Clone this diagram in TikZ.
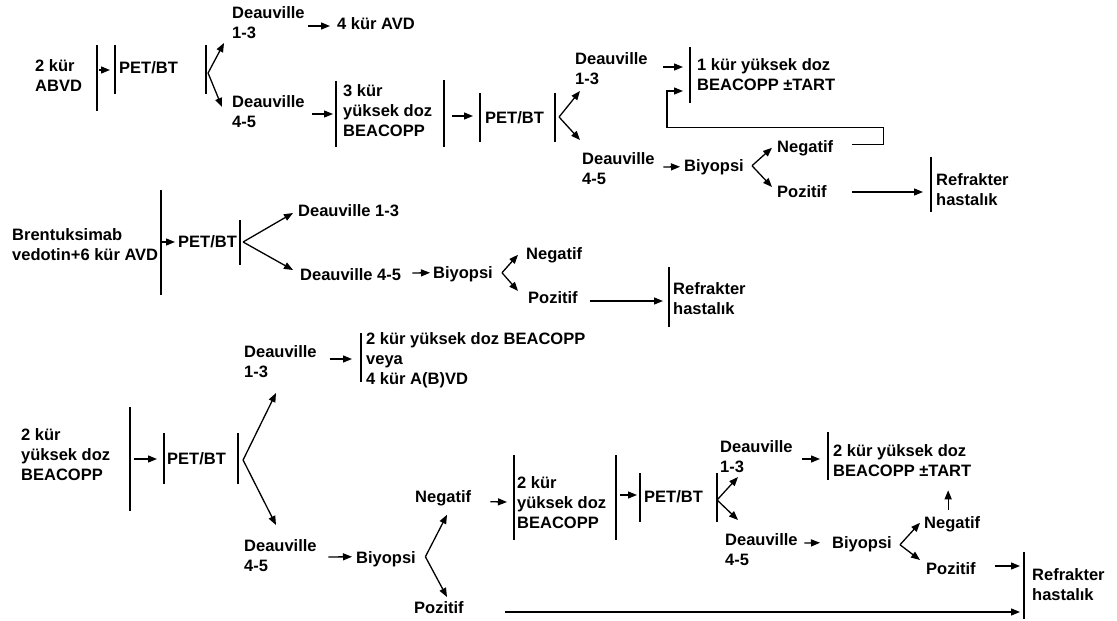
\documentclass[tikz,border=0pt]{standalone}
\usepackage{fontspec}
\setmainfont{Liberation Sans}
\usetikzlibrary{arrows.meta,calc}

\begin{document}
\begin{tikzpicture}[
  x=1pt, y=-1pt,
  font=\bfseries\fontsize{16.5}{20}\selectfont,
  txt/.style={anchor=west, inner sep=0pt, align=left},
  arr/.style={-{Triangle[length=9pt,width=7pt]}, line width=1.3pt},
  bar/.style={line width=1.4pt},
]
\useasboundingbox (0,0) rectangle (1117,621);

%% ---- Row 1: 2 kur ABVD ----
\node[txt] (abvd) at (35,76)  {2 kür\\ABVD};
\node[txt] (pet1) at (119,68) {PET/BT};
\node[txt] (d13a) at (232,23) {Deauville\\1-3};
\node[txt] (avd)  at (337,24) {4 kür AVD};
\node[txt] (d45a) at (232,112) {Deauville\\4-5};
\node[txt] (beacopp3) at (343,111) {3 kür\\yüksek doz\\BEACOPP};
\node[txt] (pet2) at (485,118) {PET/BT};
\node[txt] (d13b) at (575,69) {Deauville\\1-3};
\node[txt] (kur1) at (697,75) {1 kür yüksek doz\\BEACOPP ±TART};
\node[txt] (d45b) at (582,169) {Deauville\\4-5};
\node[txt] (biy1) at (684,166.75) {Biyopsi};
\node[txt] (neg1) at (777,148.75) {Negatif};
\node[txt] (poz1) at (777,192) {Pozitif};
\node[txt] (ref1) at (936,190) {Refrakter\\hastalık};

\draw[bar] (97,45) -- (97,111);
\draw[bar] (115,45) -- (115,94);
\draw[bar] (206,45) -- (206,94);
\draw[bar] (336,81) -- (336,147);
\draw[bar] (444,80) -- (444,147);
\draw[bar] (480,93) -- (480,142);
\draw[bar] (555,93) -- (555,142);
\draw[bar] (690,47) -- (690,103);
\draw[bar] (931,157) -- (931,212);

\coordinate (f1) at ([shift={(30,5)}]pet1.east);
\coordinate (f2) at ([shift={(15,-1)}]pet2.east);
\coordinate (f3) at ([shift={(8,-1)}]biy1.east);

\draw[arr] ([shift={(17,-6)}]abvd.east) -- ([shift={(-9,2)}]pet1.west);
\draw[arr] (f1) -- ([shift={(-8,20)}]d13a.west);
\draw[arr] (f1) -- ([shift={(-10,-5)}]d45a.west);
\draw[arr] ([shift={(3.5,3)}]d13a.east) -- ([shift={(-7,2)}]avd.west);
\draw[arr] ([shift={(7.5,2)}]d45a.east) -- ([shift={(-10,3)}]beacopp3.west);
\draw[arr] ([shift={(20,5)}]beacopp3.east) -- ([shift={(-12,-2)}]pet2.west);
\draw[arr] (f2) -- ([shift={(5,22)}]d13b.west);
\draw[arr] (f2) -- ([shift={(-2,-29)}]d45b.west);
\draw[arr] ([shift={(15.5,-2)}]d13b.east) -- ([shift={(-14,-8)}]kur1.west);
\draw[arr] ([shift={(19,-4)}]neg1.east) -- ++(31,0) -- ++(0,-17)
  -| ([shift={(-30,16)}]kur1.west) -- ([shift={(-14,16)}]kur1.west);
\draw[arr] ([shift={(8.5,-2)}]d45b.east) -- ([shift={(-4,0)}]biy1.west);
\draw[arr] (f3) -- ([shift={(-5,-1)}]neg1.west);
\draw[arr] (f3) -- ([shift={(-5,-5)}]poz1.west);
\draw[arr] ([shift={(25.5,0)}]poz1.east) -- ([shift={(-13,2)}]ref1.west);

%% ---- Row 2: Brentuksimab vedotin ----
\node[txt] (bv)   at (12,245)  {Brentuksimab\\vedotin+6 kür AVD};
\node[txt] (pet3) at (178,242) {PET/BT};
\node[txt] (d13c) at (298,211) {Deauville 1-3};
\node[txt] (d45c) at (300,275) {Deauville 4-5};
\node[txt] (biy2) at (433,273.75) {Biyopsi};
\node[txt] (neg2) at (526,255.75) {Negatif};
\node[txt] (poz2) at (528,298) {Pozitif};
\node[txt] (ref2) at (673,299) {Refrakter\\hastalık};

\draw[bar] (161,190) -- (161,295);
\draw[bar] (240,220) -- (240,265);
\draw[bar] (669,267) -- (669,327);

\coordinate (f4) at ([shift={(6,0)}]pet3.east);
\coordinate (f5) at ([shift={(9,-1)}]biy2.east);

\draw[arr] ([shift={(4,-3)}]bv.east) -- ([shift={(-3,0)}]pet3.west);
\draw[arr] (f4) -- ([shift={(-5,2)}]d13c.west);
\draw[arr] (f4) -- ([shift={(-7,-5)}]d45c.west);
\draw[arr] ([shift={(11,-2)}]d45c.east) -- ([shift={(-3,-1)}]biy2.west);
\draw[arr] (f5) -- ([shift={(-8,-1)}]neg2.west);
\draw[arr] (f5) -- ([shift={(-10,-7)}]poz2.west);
\draw[arr] ([shift={(12.5,3)}]poz2.east) -- ([shift={(-10,2)}]ref2.west);

%% ---- Row 3: 2 kur yuksek doz BEACOPP ----
\node[txt] (beacopp2)  at (21,455)  {2 kür\\yüksek doz\\BEACOPP};
\node[txt] (pet4)      at (167,459) {PET/BT};
\node[txt] (d13d)      at (244,362) {Deauville\\1-3};
\node[txt] (alt)       at (366,360) {2 kür yüksek doz BEACOPP\\veya\\4 kür A(B)VD};
\node[txt] (d45d)      at (244,556) {Deauville\\4-5};
\node[txt] (biy3)      at (356,558.75) {Biyopsi};
\node[txt] (neg3)      at (415,498.75) {Negatif};
\node[txt] (poz3)      at (414,608) {Pozitif};
\node[txt] (beacopp2b) at (517,503) {2 kür\\yüksek doz\\BEACOPP};
\node[txt] (pet5)      at (644,497) {PET/BT};
\node[txt] (d13e)      at (720,457) {Deauville\\1-3};
\node[txt] (kur2)      at (833,461) {2 kür yüksek doz\\BEACOPP ±TART};
\node[txt] (d45e)      at (725,550) {Deauville\\4-5};
\node[txt] (biy4)      at (832,543.75) {Biyopsi};
\node[txt] (neg4)      at (924,524.75) {Negatif};
\node[txt] (poz4)      at (926,569) {Pozitif};
\node[txt] (ref3)      at (1032,585) {Refrakter\\hastalık};

\draw[bar] (130,407) -- (130,511);
\draw[bar] (164,433) -- (164,484);
\draw[bar] (238,433) -- (238,484);
\draw[bar] (361,333) -- (361,382);
\draw[bar] (514,455) -- (514,540);
\draw[bar] (616,455) -- (616,540);
\draw[bar] (640,473) -- (640,522);
\draw[bar] (717,473) -- (717,522);
\draw[bar] (828,432) -- (828,480);
\draw[bar] (1024,552) -- (1024,619);

\coordinate (f6) at ([shift={(17,1)}]pet4.east);
\coordinate (f7) at ([shift={(9.4,-2)}]biy3.east);
\coordinate (f8) at ([shift={(14,3)}]pet5.east);
\coordinate (f9) at ([shift={(8,1)}]biy4.east);

\draw[arr] ([shift={(24,4)}]beacopp2.east) -- ([shift={(-10,0)}]pet4.west);
\draw[arr] (f6) -- ([shift={(32,31)}]d13d.west);
\draw[arr] (f6) -- ([shift={(32,-31)}]d45d.west);
\draw[arr] ([shift={(13.5,-3)}]d13d.east) -- ([shift={(-14,-1)}]alt.west);
\draw[arr] ([shift={(11.5,1)}]d45d.east) -- ([shift={(-4,-2)}]biy3.west);
\draw[arr] (f7) -- ([shift={(32,16)}]neg3.west);
\draw[arr] (f7) -- ([shift={(33,-11)}]poz3.west);
\draw[arr] ([shift={(19,3)}]neg3.east) -- ([shift={(-10,-1)}]beacopp2b.west);
\draw[arr] ([shift={(14,-8)}]beacopp2b.east) -- ([shift={(-7,-2)}]pet5.west);
\draw[arr] (f8) -- ([shift={(18,20)}]d13e.west);
\draw[arr] (f8) -- ([shift={(13,-30)}]d45e.west);
\draw[arr] ([shift={(9.5,2)}]d13e.east) -- ([shift={(-13,-2)}]kur2.west);
\draw[arr] ([shift={(6.5,-7)}]d45e.east) -- ([shift={(-12,-1)}]biy4.west);
\draw[arr] (f9) -- ([shift={(-4,-2)}]neg4.west);
\draw[arr] (f9) -- ([shift={(-6,-9)}]poz4.west);
\draw[arr] ($(neg4.north)+(-4,-7)$) -- ($(kur2.south -| neg4.north)+(-4,13)$);
\draw[arr] ([shift={(19.5,-3)}]poz4.east) -- ([shift={(-12,-19)}]ref3.west);
\draw[arr] ([shift={(41.5,4)}]poz3.east) -- ([shift={(-12,27)}]ref3.west);

\end{tikzpicture}
\end{document}
